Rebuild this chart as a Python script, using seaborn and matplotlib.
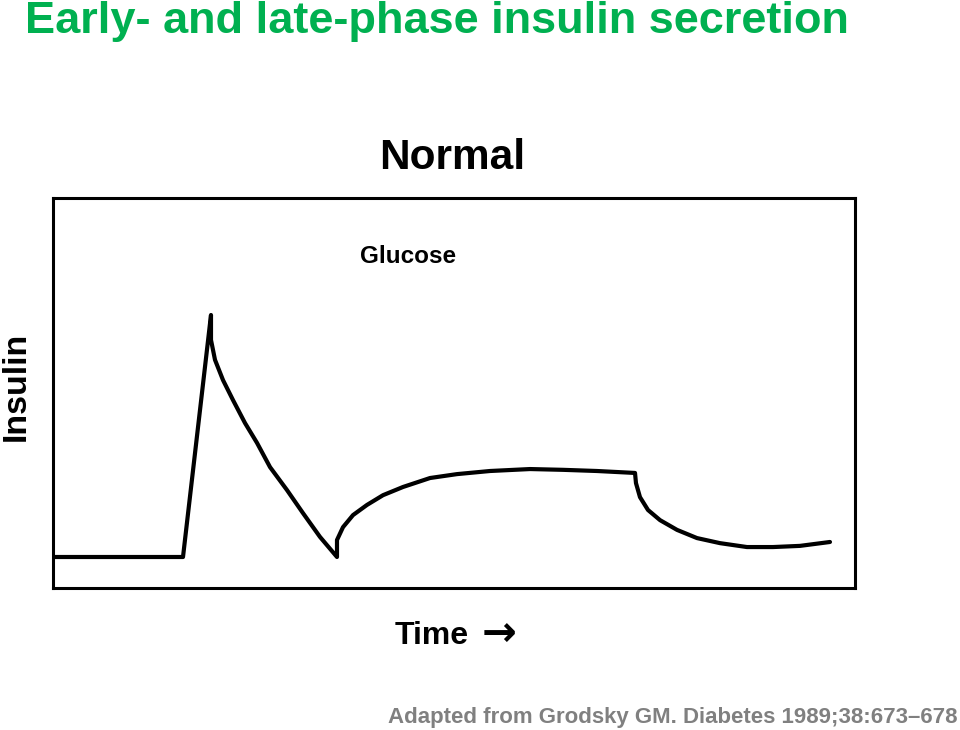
import matplotlib
matplotlib.use("Agg")
import matplotlib.pyplot as plt
import seaborn as sns
import pandas as pd

# Data (arbitrary units: time 0-100, insulin 0-100)
time = [0, 16.21, 19.70, 19.70, 20.20, 21.20, 22.44, 23.94, 25.44, 27.06,
        29.18, 31.17, 33.29, 35.41, 35.41, 36.16, 37.41, 39.15, 41.15, 43.64,
        47.01, 50.37, 54.49, 59.48, 63.59, 67.83, 72.57, 72.69, 73.19, 74.19,
        75.69, 77.81, 80.30, 83.17, 86.53, 89.78, 93.14, 96.88]
insulin = [7.95, 7.95, 70.0, 63.6, 58.5, 53.3, 48.2, 42.3, 37.2, 31.0,
           25.1, 19.2, 13.1, 7.95, 12.3, 15.6, 18.7, 21.3, 23.8, 25.9,
           28.2, 29.2, 30.0, 30.5, 30.3, 30.0, 29.5, 26.9, 23.3, 20.0,
           17.4, 14.9, 12.8, 11.5, 10.5, 10.5, 10.8, 11.8]

title = "Early- and late-phase insulin secretion"
panel_title = "Normal"
annotation = "Glucose"
xlabel = "Time \u2192"
ylabel = "Insulin"
citation = "Adapted from Grodsky GM. Diabetes 1989;38:673\u2013678"

sns.set_style("white")
plt.rcParams['font.family'] = ['Liberation Sans', 'DejaVu Sans']
plt.rcParams['text.color'] = 'black'

df = pd.DataFrame({"time": time, "insulin": insulin})

fig = plt.figure(figsize=(9.6, 7.3), dpi=100)
ax = fig.add_axes([53 / 960, 1 - 588 / 730, 802 / 960, 390 / 730])
sns.lineplot(data=df, x="time", y="insulin", sort=False, estimator=None,
             errorbar=None, color="black", linewidth=3.0, ax=ax,
             solid_joinstyle="round", solid_capstyle="round")
ax.set_xlim(0, 100)
ax.set_ylim(0, 100)
ax.set_xticks([])
ax.set_yticks([])
ax.set_xlabel("")
ax.set_ylabel("")
for s in ax.spines.values():
    s.set_visible(True)
    s.set_color("black")
    s.set_linewidth(2.2)

ax.text(44.3, 85, annotation, ha="center", va="center", fontsize=17.5,
        fontweight="bold", color="black")

fig.text(452 / 960, 1 - 158 / 730, panel_title, ha="center", va="center",
         fontsize=30.5, fontweight="bold")
fig.text(16 / 960, 1 - 386 / 730, ylabel, ha="center", va="center",
         rotation=90, fontsize=24.5, fontweight="bold")
fig.text(395 / 960, 1 - 636 / 730, "Time", ha="left", va="center",
         fontsize=23, fontweight="bold")
fig.text(482 / 960, 1 - 634 / 730, "\u2192", ha="left", va="center",
         fontsize=30, fontweight="bold", family=['DejaVu Sans'])
fig.text(958 / 960, 1 - 717 / 730, citation, ha="right", va="center",
         fontsize=16, fontweight="bold", color="#808080")
fig.text(25 / 960, 1 - 22 / 730, title, ha="left", va="center",
         fontsize=32.5, fontweight="bold", color="#00B050")

fig.savefig("out.png", dpi=100)
